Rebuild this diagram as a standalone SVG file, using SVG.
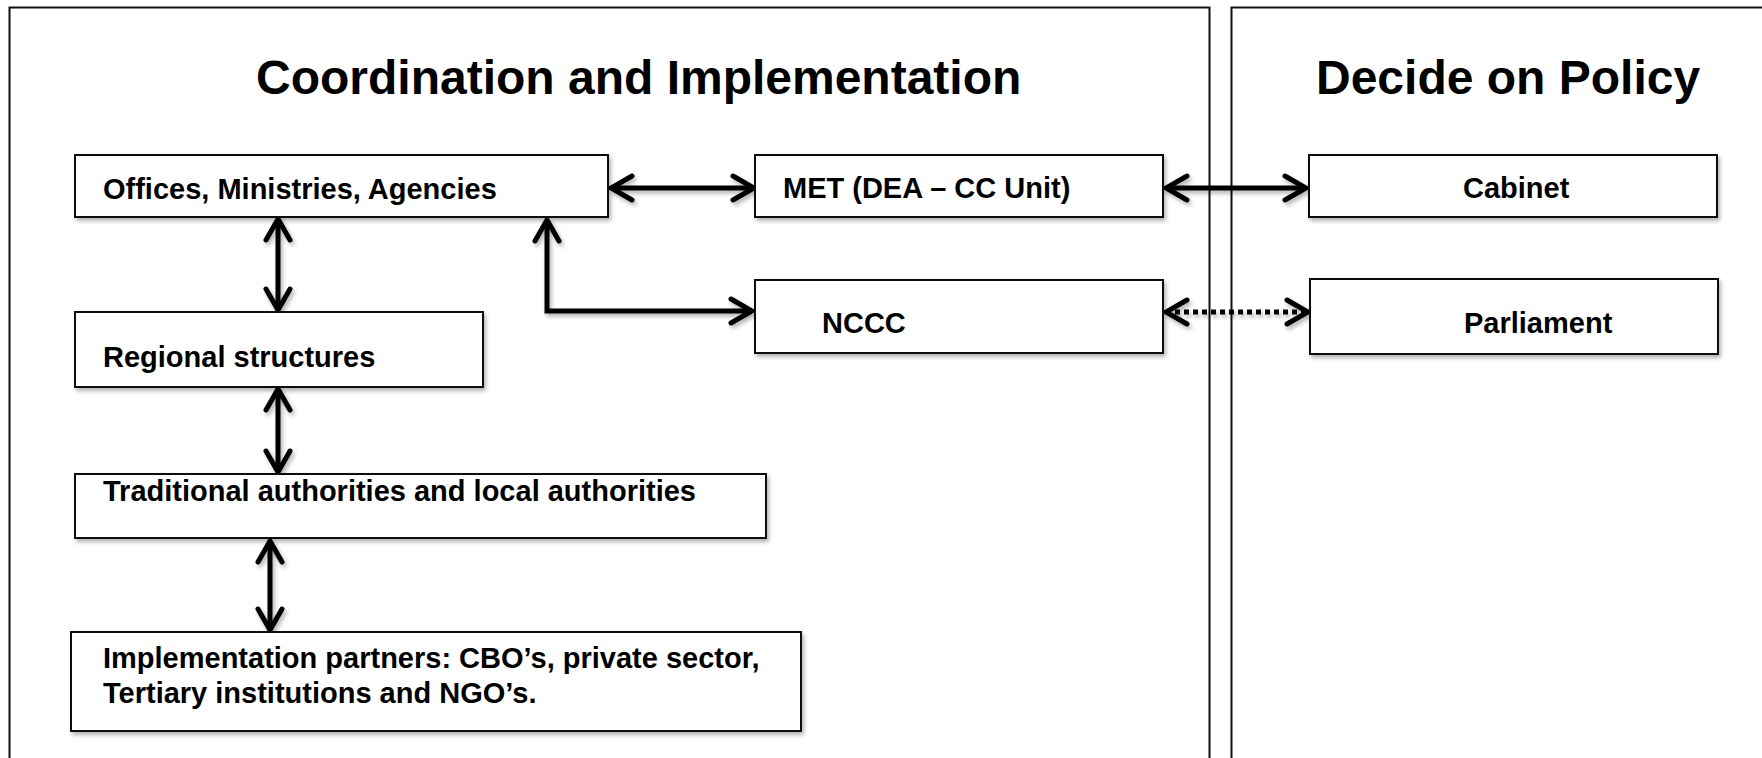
<svg xmlns="http://www.w3.org/2000/svg" width="1762" height="758" viewBox="0 0 1762 758">
  <style>
    .panel { fill: #ffffff; stroke: #111111; stroke-width: 2; }
    .box { fill: #ffffff; stroke: #111111; stroke-width: 2; filter: url(#shadow); }
    .title { font-family: "Liberation Sans", Arial, sans-serif; font-weight: bold; font-size: 48px; fill: #000000; }
    .label { font-family: "Liberation Sans", Arial, sans-serif; font-weight: bold; font-size: 29px; fill: #000000; }
    .conn { fill: none; stroke: #000000; stroke-width: 5; marker-start: url(#chev); marker-end: url(#chev); }
    .dotted { stroke-dasharray: 5 4; }
  </style>
  <defs>
    <filter id="shadow" x="-10%" y="-20%" width="130%" height="160%">
      <feDropShadow dx="2" dy="3" stdDeviation="2" flood-color="#000000" flood-opacity="0.3"/>
    </filter>
    <filter id="lshadow" filterUnits="userSpaceOnUse" x="0" y="0" width="1762" height="758">
      <feDropShadow dx="2" dy="3" stdDeviation="2" flood-color="#000000" flood-opacity="0.3"/>
    </filter>
    <marker id="chev" markerUnits="userSpaceOnUse" viewBox="-28 -18 32 36" refX="0" refY="0" markerWidth="32" markerHeight="36" orient="auto-start-reverse">
      <path d="M -21 -12 L 0 0 L -21 12" fill="none" stroke="#000000" stroke-width="5" stroke-linecap="round" stroke-linejoin="miter"/>
    </marker>
  </defs>
  <rect width="1762" height="758" fill="#ffffff"/>

  <g id="panel-coordination">
    <rect class="panel" x="9.5" y="7.5" width="1200" height="780"/>
    <text class="title" x="256" y="94">Coordination and Implementation</text>
  </g>
  <g id="panel-policy">
    <rect class="panel" x="1231.5" y="7.5" width="560" height="780"/>
    <text class="title" x="1316" y="94">Decide on Policy</text>
  </g>

  <g id="connectors" filter="url(#lshadow)">
    <path class="conn" d="M 611 188 L 754 188"/>
    <path class="conn" d="M 1166 188 L 1306 188"/>
    <path class="conn dotted" d="M 1166 312 L 1308 312"/>
    <path class="conn" d="M 278 219 L 278 310"/>
    <path class="conn" d="M 278 389 L 278 472"/>
    <path class="conn" d="M 270 541 L 270 630"/>
    <path class="conn" d="M 547 220 L 547 311 L 752 311"/>
  </g>

  <g id="node-offices">
    <rect class="box" x="75" y="155" width="533" height="62"/>
    <text class="label" x="103" y="199">Offices, Ministries, Agencies</text>
  </g>
  <g id="node-regional">
    <rect class="box" x="75" y="312" width="408" height="75"/>
    <text class="label" x="103" y="367">Regional structures</text>
  </g>
  <g id="node-traditional">
    <rect class="box" x="75" y="474" width="691" height="64"/>
    <text class="label" x="103" y="501">Traditional authorities and local authorities</text>
  </g>
  <g id="node-implementation">
    <rect class="box" x="71" y="632" width="730" height="99"/>
    <text class="label" x="103" y="668">Implementation partners: CBO’s, private sector,</text>
    <text class="label" x="103" y="703">Tertiary institutions and NGO’s.</text>
  </g>
  <g id="node-met">
    <rect class="box" x="755" y="155" width="408" height="62"/>
    <text class="label" x="783" y="198">MET (DEA – CC Unit)</text>
  </g>
  <g id="node-nccc">
    <rect class="box" x="755" y="280" width="408" height="73"/>
    <text class="label" x="822" y="333">NCCC</text>
  </g>
  <g id="node-cabinet">
    <rect class="box" x="1309" y="155" width="408" height="62"/>
    <text class="label" x="1463" y="198">Cabinet</text>
  </g>
  <g id="node-parliament">
    <rect class="box" x="1310" y="279" width="408" height="75"/>
    <text class="label" x="1464" y="333">Parliament</text>
  </g>
</svg>
